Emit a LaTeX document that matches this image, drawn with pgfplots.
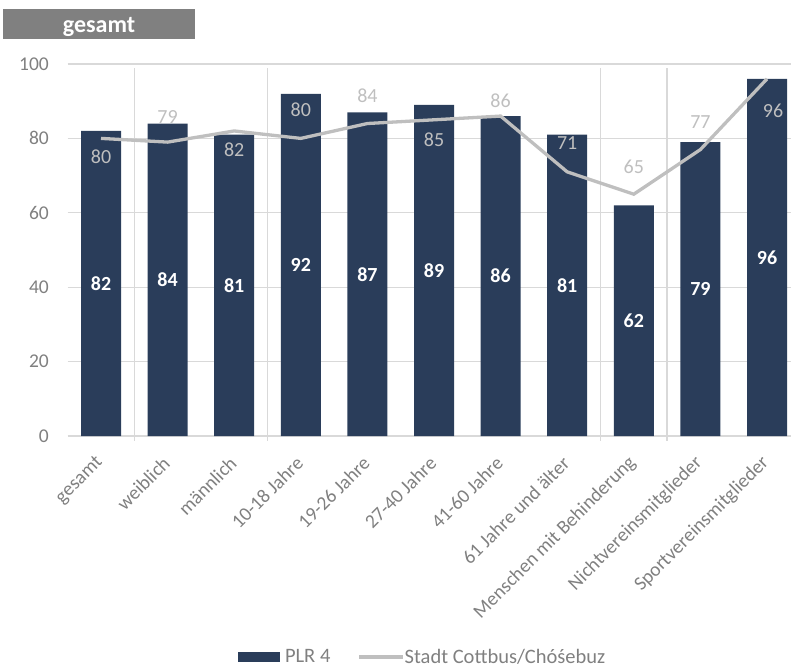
\documentclass[border=0pt]{standalone}
\usepackage{pgfplots}
\usepackage{pgfplotstable}
\pgfplotsset{compat=1.18}
\usepackage{fontspec}
\setmainfont{Carlito}
\definecolor{barblue}{HTML}{2A3D5A}
\definecolor{stadtgray}{HTML}{BFBFBF}
\definecolor{gridgray}{HTML}{D9D9D9}
\definecolor{ticktext}{HTML}{808080}
\definecolor{titlegray}{HTML}{808080}
\pgfplotstableread{
x plr stadt ly lx
0 82 80 75.0 0
1 84 79 85.8 1
2 81 82 76.9 2
3 92 80 87.6 3
4 87 84 91.4 4
5 89 85 79.6 5
6 86 86 90.1 6
7 81 71 78.8 7
8 62 65 72.3 8
9 79 77 84.4 9
10 96 96 87.4 10.09
}\data
\begin{document}
\begin{tikzpicture}
\fill[titlegray] (3pt,627pt) rectangle (195pt,657pt);
\node[text=white, font=\fontsize{24}{28}\selectfont\bfseries] at (99pt,639.5pt) {gesamt};
\begin{axis}[
  at={(67.7pt,230pt)}, anchor=south west,
  scale only axis, width=732.6pt, height=372pt,
  xmin=-0.5, xmax=10.5, ymin=0, ymax=100,
  ytick={0,20,...,100},
  xtick={0,...,10},
  xticklabels={gesamt, weiblich, männlich, 10-18 Jahre, 19-26 Jahre, 27-40 Jahre, 41-60 Jahre, 61 Jahre und älter, Menschen mit Behinderung, Nichtvereinsmitglieder, Sportvereinsmitglieder},
  ymajorgrids, grid style={gridgray, line width=1.3pt},
  axis line style={draw=none},
  major tick length=0pt,
  tick label style={font=\fontsize{19.5}{23}\selectfont, text=ticktext},
  /pgf/number format/assume math mode=true,
  yticklabel style={anchor=east, inner sep=0pt, xshift=-18.7pt},
  xticklabel style={inner sep=0pt, xshift=-1pt, yshift=-24pt, rotate=45, anchor=east},
  clip=false,
  legend style={at={(0.2325,-0.594)}, anchor=west, draw=none, fill=none, legend columns=2,
    inner sep=0pt, outer sep=0pt, nodes={inner sep=5pt},
    font=\fontsize{20.5}{24}\selectfont, text=ticktext,
    /tikz/every even column/.append style={column sep=22pt}},
  legend cell align=left,
]
\draw[gridgray, line width=1.3pt] (axis cs:0.5,-1.3) -- (axis cs:0.5,99);
\draw[gridgray, line width=1.3pt] (axis cs:2.5,-1.3) -- (axis cs:2.5,99);
\draw[gridgray, line width=1.3pt] (axis cs:7.5,-1.3) -- (axis cs:7.5,99);
\draw[gridgray, line width=1.3pt] (axis cs:8.5,-1.3) -- (axis cs:8.5,99);
\addplot[ybar, bar width=40pt, bar shift=0pt, fill=barblue, draw=none,
  legend image code/.code={\fill[barblue] (0pt,-5pt) rectangle (42pt,5pt);}]
  table[x=x, y=plr]{\data};
\addlegendentry{PLR 4}
\addplot[stadtgray, line width=3.3pt, mark=none,
  legend image code/.code={\draw[stadtgray, line width=3.3pt] (0pt,0pt) -- (39pt,0pt);
    \draw[stadtgray, line width=3.3pt, overlay] (38pt,0pt) -- (44pt,0pt);}]
  table[x=x, y=stadt]{\data};
\addlegendentry{Stadt Cottbus/Chóśebuz}
\addplot[forget plot, draw=none, mark=none, nodes near coords, point meta=explicit,
  nodes near coords style={anchor=center, text=white, font=\fontsize{20}{24}\selectfont\bfseries}]
  table[x=x, y expr=\thisrow{plr}/2, meta=plr]{\data};
\addplot[forget plot, draw=none, mark=none, nodes near coords, point meta=explicit,
  nodes near coords style={anchor=center, text=stadtgray, font=\fontsize{20}{24}\selectfont}]
  table[x=lx, y=ly, meta=stadt]{\data};
\end{axis}
\pgfresetboundingbox
\path[use as bounding box] (0,0) rectangle (791pt,666pt);
\end{tikzpicture}
\end{document}
